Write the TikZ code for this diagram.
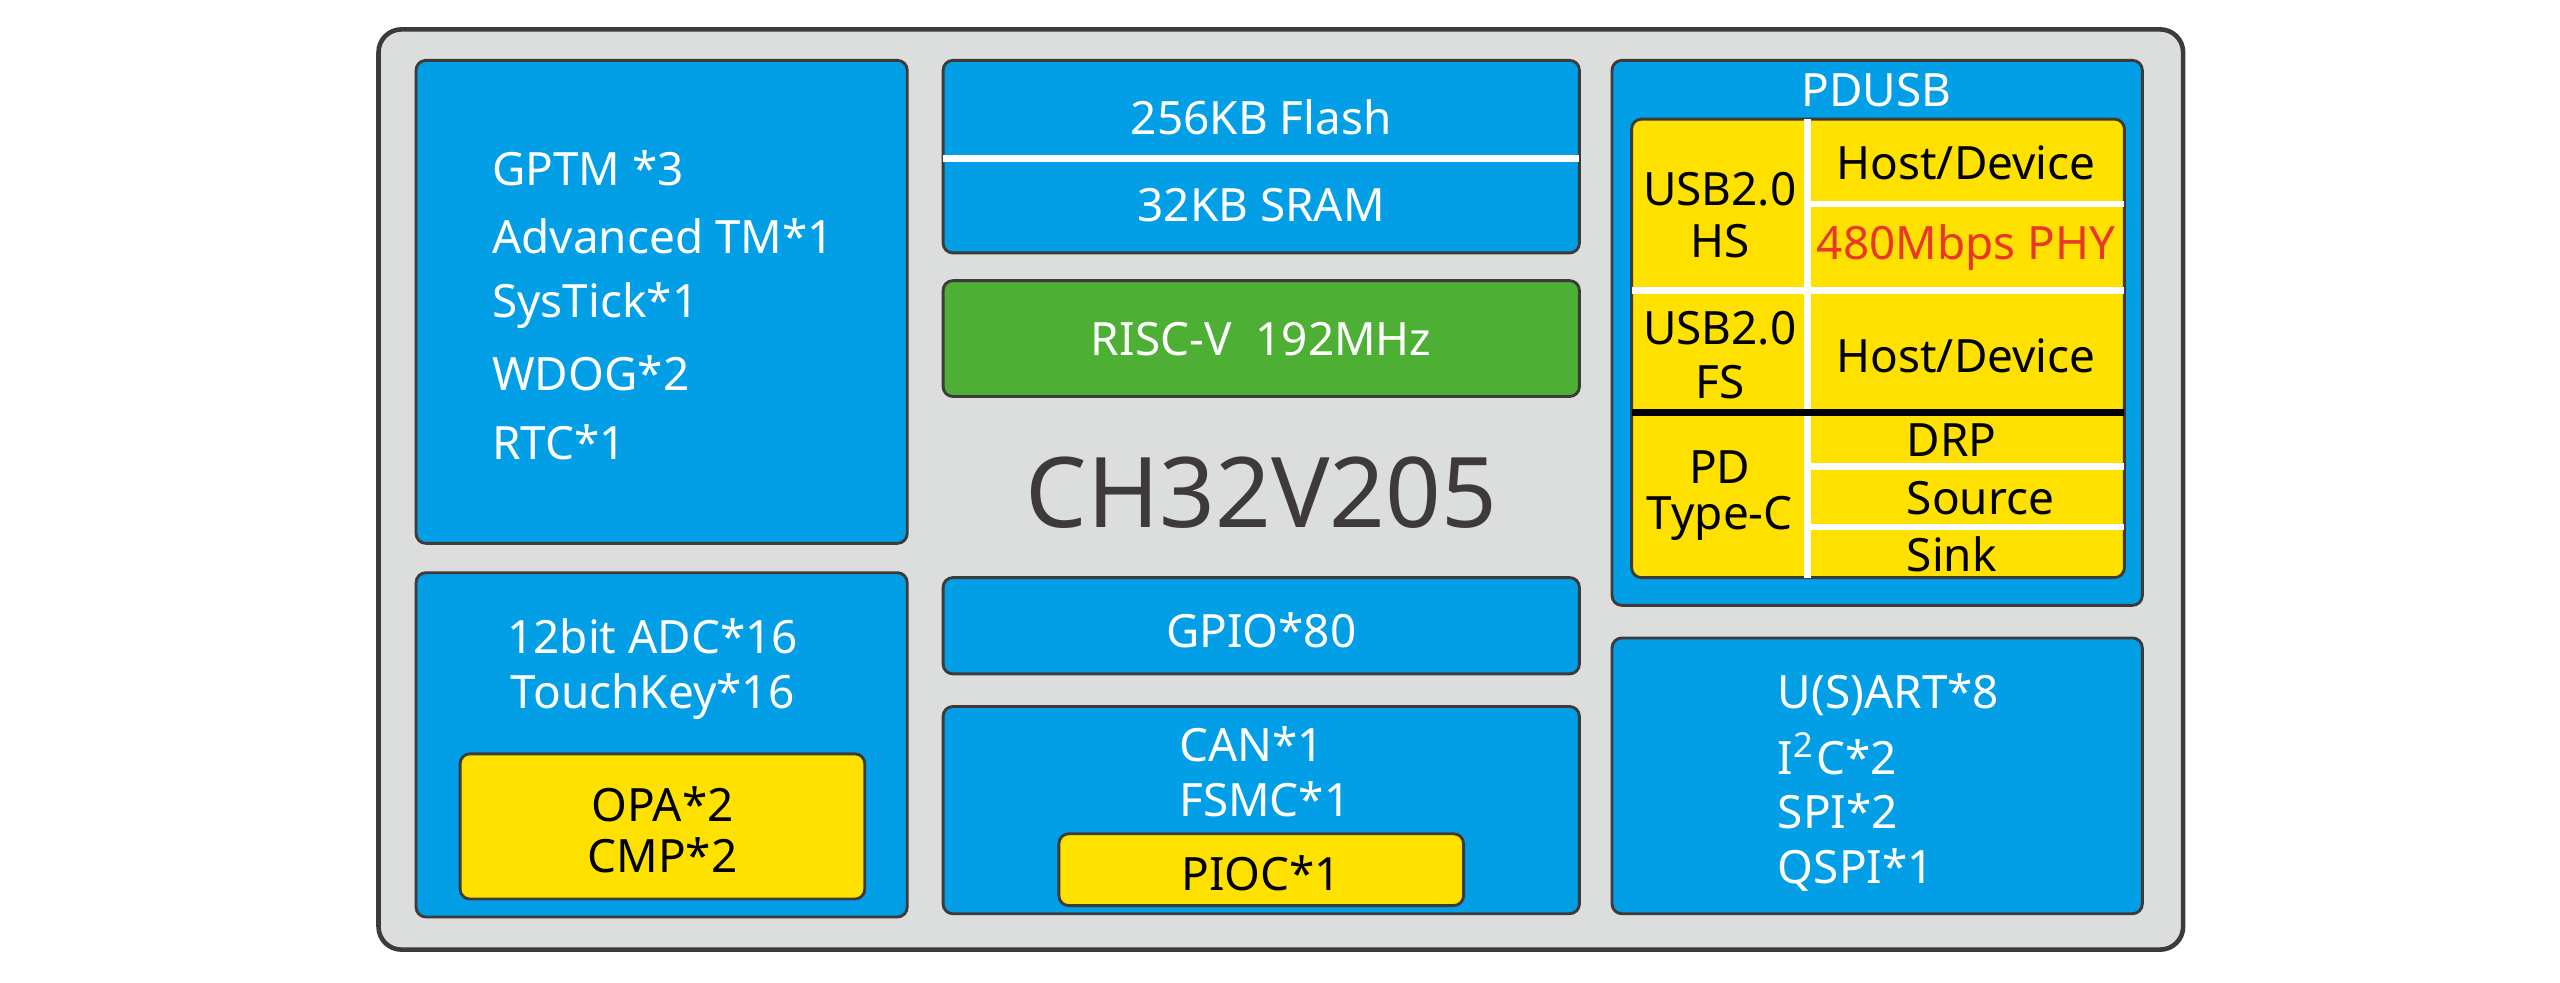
\documentclass[tikz,border=0pt]{standalone}
\usepackage{fontspec}
\setmainfont{Noto Sans}
\definecolor{bl}{HTML}{039FE6}
\definecolor{gr}{HTML}{4DB034}
\definecolor{ye}{HTML}{FFE100}
\definecolor{bd}{HTML}{3E3A39}
\definecolor{bg}{HTML}{DCDDDD}
\definecolor{rd}{HTML}{E8382C}
\begin{document}
\begin{tikzpicture}[x=0.01cm,y=-0.01cm,
  box/.style={draw=bd,line width=0.5pt,rounded corners=0.06cm},
  t/.style={font=\fontsize{8}{10}\selectfont,text=white,inner sep=0pt},
  k/.style={font=\fontsize{8}{10}\selectfont,text=black,inner sep=0pt},
  wl/.style={white,line width=1.2pt}]
\useasboundingbox (0,0) rectangle (1569,602);
\draw[box,fill=bg,line width=0.8pt,rounded corners=0.14cm] (232,18) rectangle (1338,582);
% left top
\draw[box,fill=bl] (255,37) rectangle (556,333);
\foreach \s/\y/\n in {GPTM *3/103/a1,Advanced TM*1/145/a2,SysTick*1/187/a3,WDOG*2/229/a4,RTC*1/271/a5}
  \node[t,anchor=west] (\n) at (301,\y) {\s};
% left bottom
\draw[box,fill=bl] (255,351) rectangle (556,562);
\node[t] (adc) at (400,390) {12bit ADC*16};
\node[t] (tk) at (400,427) {TouchKey*16};
\draw[box,fill=ye] (282,462) rectangle (530,551);
\node[k] (opa) at (406,493) {OPA*2};
\node[k] (cmp) at (406,524) {CMP*2};
% middle
\draw[box,fill=bl] (578,37) rectangle (968,155);
\draw[wl] (578,97) -- (968,97);
\node[t] (fl) at (773,72) {256KB Flash};
\node[t] (sr) at (773,126) {32KB SRAM};
\draw[box,fill=gr] (578,172) rectangle (968,243);
\node[t] (risc) at (773,208) {RISC-V\ \ 192MHz};
\node[inner sep=0pt,text=bd,font=\fontsize{17}{20}\selectfont\bfseries] (chip) at (773,302) {CH32V205};
\draw[box,fill=bl] (578,354) rectangle (968,413);
\node[t] (gpio) at (773,386) {GPIO*80};
\draw[box,fill=bl] (578,433) rectangle (968,560);
\node[t,anchor=west] (can) at (722,456) {CAN*1};
\node[t,anchor=west] (fsmc) at (722,490) {FSMC*1};
\draw[box,fill=ye] (649,511) rectangle (897,555);
\node[k] (pioc) at (773,535) {PIOC*1};
% right top
\draw[box,fill=bl] (988,37) rectangle (1313,371);
\node[t] (pd) at (1150,55) {PDUSB};
\draw[box,fill=ye] (1000,73) rectangle (1302,354);
\draw[wl] (1108,73) -- (1108,354);
\draw[wl] (1108,125) -- (1302,125);
\draw[wl] (1000,178) -- (1302,178);
\draw[black,line width=1.2pt] (1000,253) -- (1302,253);
\draw[wl] (1108,286) -- (1302,286);
\draw[wl] (1108,323) -- (1302,323);
\node[k] (u1) at (1054,116) {USB2.0};
\node[k] (hs) at (1054,148) {HS};
\node[k] (hd1) at (1205,100) {Host/Device};
\node[k,text=rd,font=\fontsize{8}{10}\selectfont\bfseries] (phy) at (1205,152) {480Mbps PHY};
\node[k] (u2) at (1054,201) {USB2.0};
\node[k] (fs) at (1054,234) {FS};
\node[k] (hd2) at (1205,218) {Host/Device};
\node[k] (pdc) at (1054,286) {PD};
\node[k] (tc) at (1054,318) {Type-C};
\node[k,anchor=west] (drp) at (1168,270) {DRP};
\node[k,anchor=west] (src) at (1168,305) {Source};
\node[k,anchor=west] (snk) at (1168,340) {Sink};
% right bottom
\draw[box,fill=bl] (988,391) rectangle (1313,560);
\node[t,anchor=west] (us) at (1089,426) {U(S)ART*8};
\node[t,anchor=west] (i2c) at (1089,462) {I\textsuperscript{2}C*2};
\node[t,anchor=west] (spi) at (1089,497) {SPI*2};
\node[t,anchor=west] (qspi) at (1089,533) {QSPI*1};
\end{tikzpicture}
\end{document}
